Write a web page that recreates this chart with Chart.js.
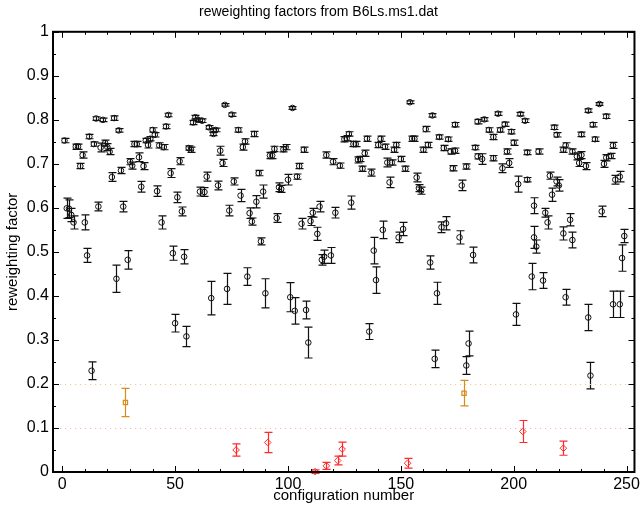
<!DOCTYPE html>
<html>
<head>
<meta charset="utf-8">
<title>reweighting factors</title>
<script src="https://cdn.jsdelivr.net/npm/chart.js@4/dist/chart.umd.min.js"></script>
<style>
  html, body { margin: 0; padding: 0; background: #fff; }
  canvas { display: block; }
</style>
</head>
<body>
<canvas id="rwChart" width="643" height="509"></canvas>
<script>
// configuration number, reweighting factor, error
const okX = [1,2,3,4,5,6,7,8,9,10,11,12,13,14,15,16,17,18,19,20,21,22,23,24,25,26,27,29,30,31,32,33,34,35,36,37,38,39,40,41,42,43,44,45,46,47,48,49,50,51,52,53,54,55,56,57,58,59,60,61,62,63,64,65,66,67,67,68,69,70,71,72,73,74,75,76,78,79,80,81,82,83,84,85,86,87,88,89,90,92,93,94,95,96,97,98,99,100,101,102,103,104,105,106,107,108,109,110,111,113,114,115,116,117,119,120,121,123,125,126,127,128,129,130,131,132,133,134,135,136,137,138,139,140,141,142,143,144,145,146,147,148,149,150,151,152,154,155,156,157,158,159,160,161,162,163,164,165,166,167,168,169,170,171,172,173,174,174,176,177,179,179,180,182,183,184,184,186,187,189,191,191,193,194,195,196,197,198,199,200,201,202,203,205,206,206,208,209,209,210,211,213,214,215,216,217,218,219,219,220,222,222,223,223,225,226,226,228,229,230,230,232,233,233,234,235,236,238,239,240,241,241,243,244,244,245,247,247,248,249];
const okY = [.753,.599,.598,.584,.567,.739,.739,.695,.720,.567,.492,.762,.230,.745,.803,.603,.737,.800,.747,.738,.728,.670,.804,.439,.776,.685,.603,.482,.705,.696,.745,.745,.715,.648,.695,.753,.743,.757,.777,.766,.638,.742,.567,.738,.785,.811,.679,.497,.338,.624,.706,.592,.489,.308,.736,.732,.794,.806,.800,.637,.798,.636,.671,.783,.395,.776,.768,.777,.651,.730,.702,.834,.416,.594,.812,.660,.777,.628,.738,.751,.444,.588,.569,.768,.614,.679,.524,.637,.406,.719,.719,.734,.577,.647,.643,.733,.738,.664,.397,.827,.366,.671,.695,.564,.732,.368,.294,.570,.589,.541,.603,.482,.489,.720,.492,.705,.589,.696,.756,.758,.768,.612,.745,.745,.709,.711,.689,.724,.757,.319,.680,.503,.436,.743,.757,.550,.739,.703,.658,.703,.732,.743,.533,.711,.552,.689,.840,.757,.757,.669,.645,.639,.732,.779,.743,.476,.810,.257,.406,.761,.556,.736,.565,.756,.728,.690,.730,.789,.533,.651,.694,.242,.292,.493,.737,.717,.796,.711,.801,.777,.713,.761,.814,.777,.690,.790,.728,.702,.773,.748,.358,.654,.813,.798,.664,.726,.444,.605,.533,.512,.728,.435,.589,.567,.673,.630,.783,.766,.660,.651,.732,.542,.742,.397,.573,.527,.728,.717,.702,.767,.720,.695,.351,.821,.219,.789,.756,.836,.592,.700,.714,.808,.718,.381,.742,.664,.381,.671,.486,.536];
const okErr = [.005,.023,.02,.015,.015,.006,.006,.006,.007,.017,.016,.005,.02,.005,.004,.01,.01,.004,.007,.008,.007,.01,.005,.031,.004,.007,.012,.021,.007,.008,.006,.006,.01,.012,.008,.005,.007,.005,.005,.005,.012,.006,.015,.006,.005,.004,.01,.016,.02,.012,.008,.01,.016,.023,.005,.006,.005,.004,.004,.01,.004,.01,.01,.004,.038,.004,.004,.004,.01,.01,.008,.003,.035,.012,.004,.008,.005,.014,.007,.006,.02,.012,.008,.006,.014,.006,.008,.015,.033,.007,.007,.006,.01,.01,.008,.006,.006,.012,.033,.003,.03,.006,.006,.012,.006,.02,.035,.01,.01,.015,.012,.012,.015,.007,.018,.007,.012,.006,.006,.006,.005,.015,.006,.006,.007,.006,.006,.007,.006,.018,.008,.03,.03,.006,.006,.02,.006,.01,.012,.006,.006,.006,.012,.006,.015,.006,.003,.006,.006,.01,.008,.008,.006,.006,.006,.015,.004,.02,.025,.005,.012,.006,.015,.005,.006,.006,.006,.005,.015,.012,.006,.02,.028,.018,.005,.006,.005,.012,.004,.005,.006,.006,.004,.005,.01,.005,.006,.01,.005,.006,.025,.018,.004,.004,.005,.005,.03,.018,.025,.015,.006,.018,.01,.015,.008,.015,.005,.005,.01,.013,.006,.015,.006,.018,.014,.018,.006,.008,.008,.005,.008,.008,.03,.004,.03,.005,.005,.003,.012,.008,.007,.005,.006,.03,.007,.01,.03,.012,.03,.015];

const midX = [28, 178];
const midY = [0.158, 0.179];
const midErr = [0.032, 0.029];

const lowX = [77, 91, 112, 117, 122, 124, 153, 204, 222];
const lowY = [0.050, 0.067, 0.001, 0.014, 0.026, 0.052, 0.020, 0.092, 0.054];
const lowErr = [0.014, 0.023, 0.004, 0.008, 0.010, 0.016, 0.011, 0.025, 0.016];

// threshold lines drawn dotted across the plot
const thresholds = [0.1, 0.2];
const thresholdColors = ["rgb(248,180,180)", "rgb(240,200,150)"];

const xTicks = [0, 50, 100, 150, 200, 250];
const yTicks = [0, 0.1, 0.2, 0.3, 0.4, 0.5, 0.6, 0.7, 0.8, 0.9, 1];

const FONT = "'Liberation Sans', Arial, Helvetica, sans-serif";

const toPoints = (xs, ys) => xs.map((x, i) => ({ x: x, y: ys[i] }));

// error bars for every dataset, taken from the dataset's err array
const errorBars = {
  id: "errorBars",
  beforeDatasetsDraw(chart) {
    const { ctx, scales: { x, y } } = chart;
    chart.data.datasets.forEach((ds) => {
      ctx.save();
      ctx.strokeStyle = ds.borderColor;
      ctx.lineWidth = 1.2;
      ds.data.forEach((p, i) => {
        const e = ds.err[i];
        const px = Math.round(x.getPixelForValue(p.x)) + 0.5;
        const top = y.getPixelForValue(p.y + e);
        const bot = y.getPixelForValue(p.y - e);
        ctx.beginPath();
        ctx.moveTo(px, top);
        ctx.lineTo(px, bot);
        ctx.moveTo(px - 4, top);
        ctx.lineTo(px + 4, top);
        ctx.moveTo(px - 4, bot);
        ctx.lineTo(px + 4, bot);
        ctx.stroke();
      });
      ctx.restore();
    });
  },
};

// dotted reference lines, frame and inward ticks on all four sides
const frame = {
  id: "frame",
  beforeDatasetsDraw(chart) {
    const { ctx, chartArea: a, scales: { y } } = chart;
    ctx.save();
    ctx.lineWidth = 1.2;
    ctx.setLineDash([1.2, 3.8]);
    thresholds.forEach((v, i) => {
      const py = Math.round(y.getPixelForValue(v)) + 0.5;
      ctx.strokeStyle = thresholdColors[i];
      ctx.beginPath();
      ctx.moveTo(a.left + 2, py);
      ctx.lineTo(a.right, py);
      ctx.stroke();
    });
    ctx.restore();
  },
  afterDraw(chart) {
    const { ctx, chartArea: a, scales: { x, y } } = chart;
    ctx.save();
    ctx.strokeStyle = "#000";
    ctx.lineWidth = 1;
    ctx.beginPath();
    for (let v = 0; v <= 250; v += 10) {
      const px = Math.round(x.getPixelForValue(v)) + 0.5;
      const len = v % 50 === 0 ? 6 : 3;
      ctx.moveTo(px, a.bottom);
      ctx.lineTo(px, a.bottom - len);
      ctx.moveTo(px, a.top);
      ctx.lineTo(px, a.top + len);
    }
    for (let k = 0; k <= 20; k++) {
      const py = Math.round(y.getPixelForValue(k * 0.05)) + 0.5;
      const len = k % 2 === 0 ? 6 : 3;
      ctx.moveTo(a.left, py);
      ctx.lineTo(a.left + len, py);
      ctx.moveTo(a.right, py);
      ctx.lineTo(a.right - len, py);
    }
    ctx.stroke();
    ctx.lineWidth = 2;
    ctx.strokeRect(a.left, a.top, a.right - a.left, a.bottom - a.top);
    ctx.restore();
  },
};

new Chart(document.getElementById("rwChart"), {
  type: "scatter",
  data: {
    datasets: [
      {
        data: toPoints(okX, okY),
        err: okErr,
        pointStyle: "circle",
        pointRadius: 2.8,
        borderColor: "#111",
        backgroundColor: "rgba(0,0,0,0)",
        borderWidth: 1,
        clip: false,
      },
      {
        data: toPoints(midX, midY),
        err: midErr,
        pointStyle: "rect",
        pointRadius: 3,
        borderColor: "#d88c1c",
        backgroundColor: "rgba(0,0,0,0)",
        borderWidth: 1.2,
        clip: false,
      },
      {
        data: toPoints(lowX, lowY),
        err: lowErr,
        pointStyle: "rectRot",
        pointRadius: 3.3,
        borderColor: "#ff2a2a",
        backgroundColor: "rgba(0,0,0,0)",
        borderWidth: 1,
        clip: false,
      },
    ],
  },
  options: {
    responsive: false,
    animation: false,
    events: [],
    layout: { padding: { left: 0, right: 6, top: 0, bottom: 0 } },
    plugins: {
      legend: { display: false },
      tooltip: { enabled: false },
      title: {
        display: true,
        text: "reweighting factors from B6Ls.ms1.dat",
        color: "#000",
        font: { family: FONT, size: 14, weight: "normal" },
        padding: { top: 4, bottom: 11 },
      },
    },
    scales: {
      x: {
        type: "linear",
        min: -4.1,
        max: 253.5,
        grid: { display: false, drawTicks: false },
        border: { display: false },
        afterBuildTicks: (s) => { s.ticks = xTicks.map((v) => ({ value: v })); },
        afterFit: (s) => { s.height = 37; },
        ticks: {
          color: "#000",
          padding: 3,
          maxRotation: 0,
          autoSkip: false,
          font: { family: FONT, size: 16 },
        },
        title: {
          display: true,
          text: "configuration number",
          color: "#000",
          font: { family: FONT, size: 15 },
          padding: { top: 0, bottom: 4 },
        },
      },
      y: {
        min: 0,
        max: 1,
        grid: { display: false, drawTicks: false },
        border: { display: false },
        afterBuildTicks: (s) => { s.ticks = yTicks.map((v) => ({ value: v })); },
        afterFit: (s) => { s.width = 53; },
        ticks: {
          color: "#000",
          padding: 4,
          autoSkip: false,
          font: { family: FONT, size: 16 },
          callback: (v) => String(Math.round(v * 10) / 10),
        },
        title: {
          display: true,
          text: "reweighting factor",
          color: "#000",
          font: { family: FONT, size: 15 },
          padding: { top: 4, bottom: 0 },
        },
      },
    },
  },
  plugins: [errorBars, frame],
});
</script>
</body>
</html>
